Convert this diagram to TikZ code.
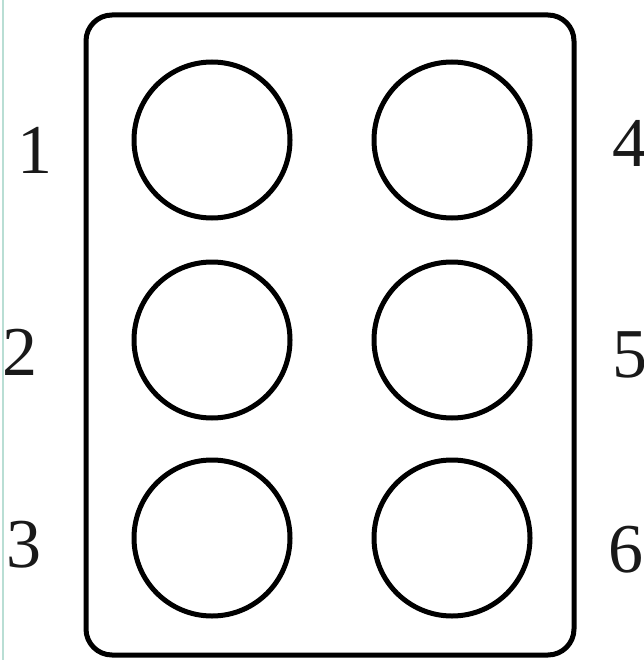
\documentclass[tikz,border=0pt]{standalone}
\usepackage{fontspec}
\setmainfont{Liberation Serif}
\begin{document}
\begin{tikzpicture}[x=1pt,y=-1pt,
  dot/.style={draw=black,line width=5pt,circle,minimum size=156pt,inner sep=0pt},
  num/.style={font=\fontsize{70}{70}\selectfont,inner sep=0pt,text=black!90}]
\useasboundingbox (0,0) rectangle (643,660);
\fill[white] (0,0) rectangle (643,660);
\draw[color={rgb,255:red,185;green,222;blue,212},line width=1.5pt] (3,0) -- (3,660);
\draw[line width=5pt,rounded corners=26pt] (86,15) rectangle (574,655);
\node[dot] (d1) at (212,140) {};
\node[dot] (d2) at (212,340) {};
\node[dot] (d3) at (212,538) {};
\node[dot] (d4) at (452,140) {};
\node[dot] (d5) at (452,340) {};
\node[dot] (d6) at (452,538) {};
\node[num] (l1) at (35,150) {1};
\node[num] (l2) at (20,352) {2};
\node[num] (l3) at (24,545) {3};
\node[num] (l4) at (630,143) {4};
\node[num] (l5) at (630,355) {5};
\node[num] (l6) at (626,550) {6};
\end{tikzpicture}
\end{document}
